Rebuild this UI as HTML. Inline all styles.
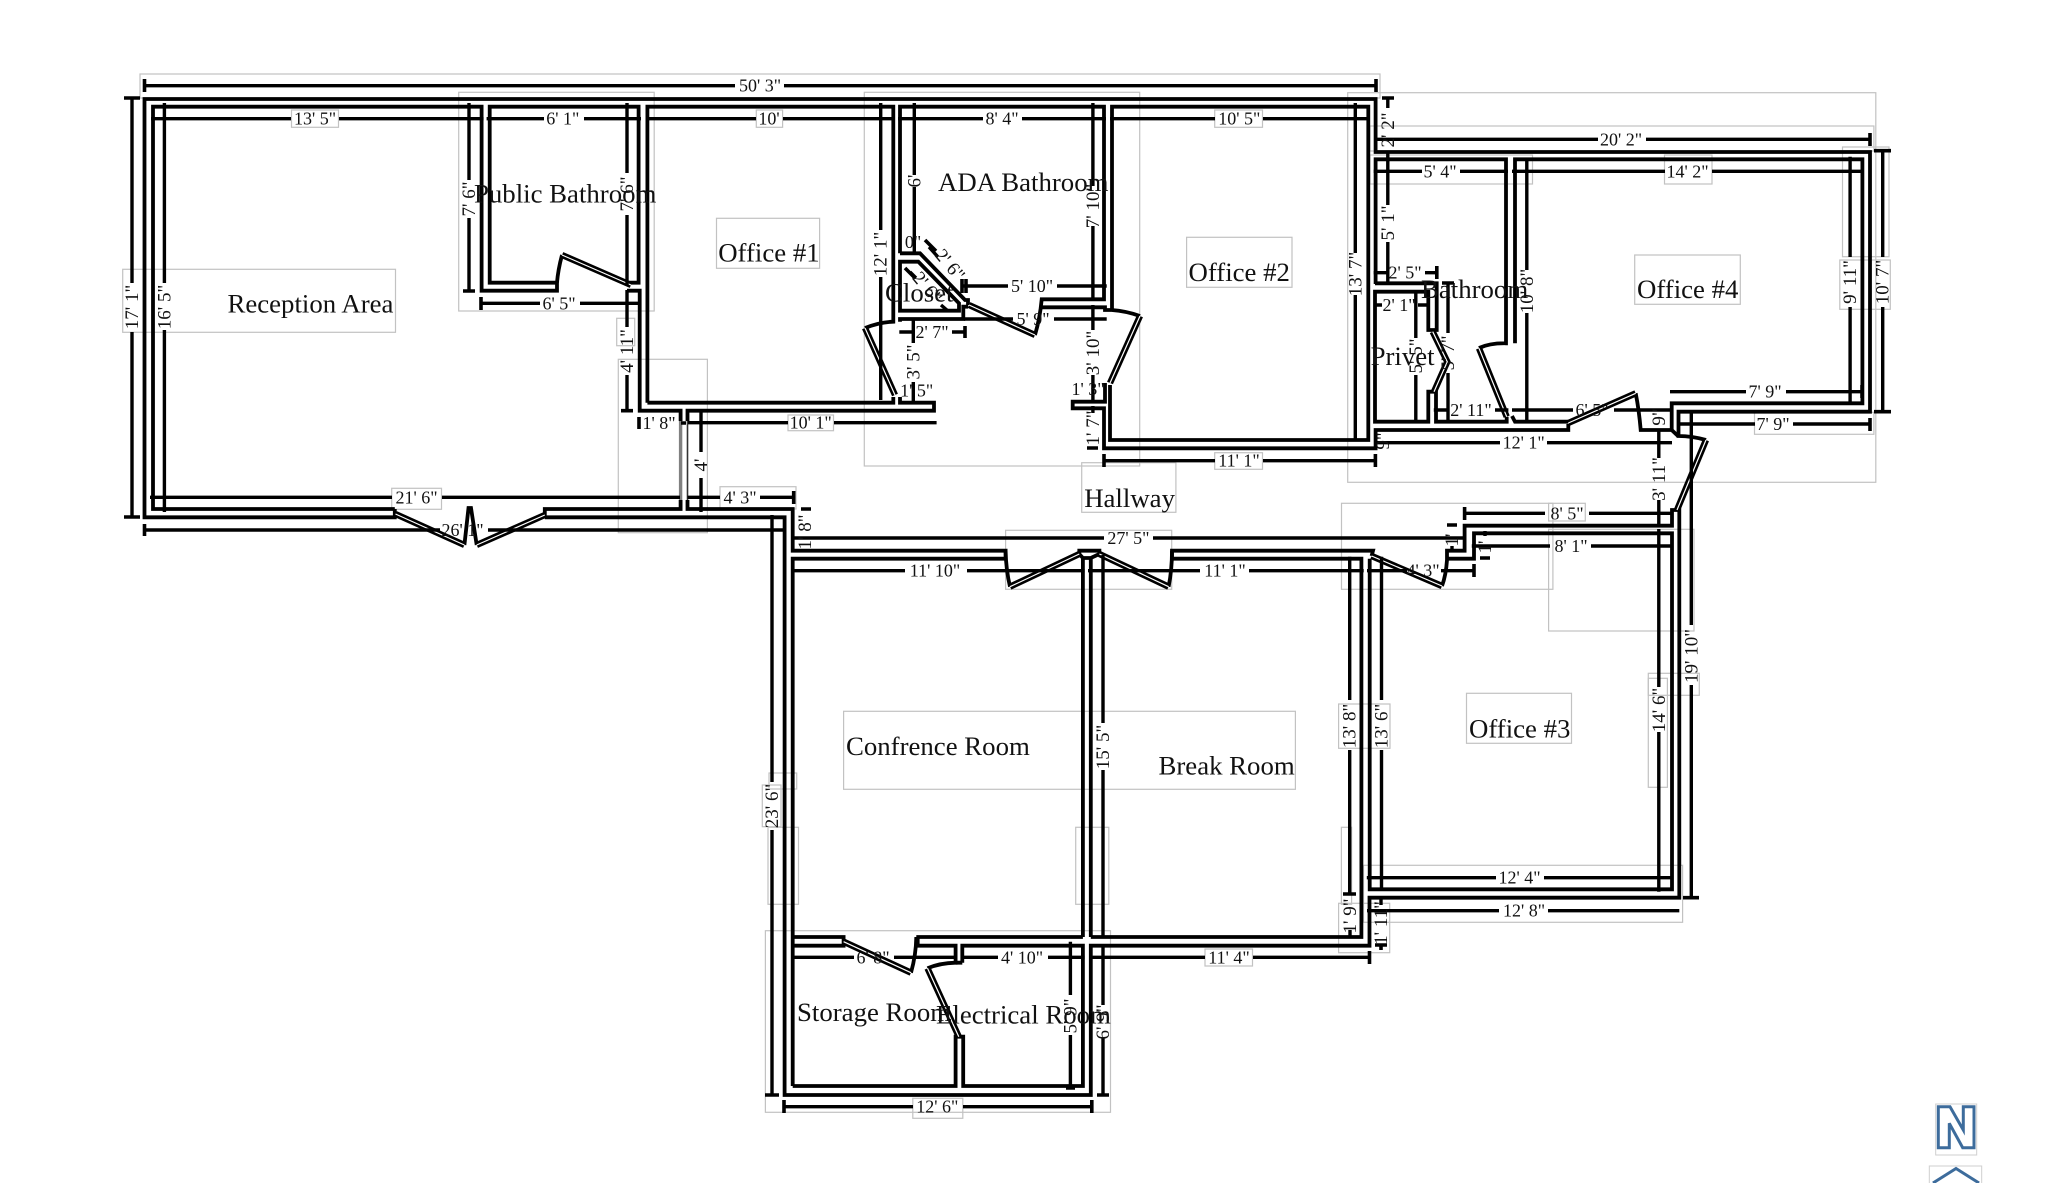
<!DOCTYPE html>
<html lang="en">
<head>
<meta charset="utf-8">
<title>Floor plan</title>
<style>
html,body{margin:0;padding:0;background:#fff}
svg{display:block}
text{font-family:"Liberation Serif",serif;fill:#111}
.r{font-size:26.8px}
.d{font-size:18px;text-anchor:middle}
.v{font-size:19px}
.box rect{fill:none;stroke:#c2c2c2;stroke-width:1.2}
.w{fill:none;stroke:#000;stroke-width:3.8;stroke-linejoin:miter}
.m{fill:none;stroke:#000;stroke-width:3.4}
.c{fill:none;stroke:#000;stroke-width:3.6}
</style>
</head>
<body>
<svg xmlns="http://www.w3.org/2000/svg" width="2048" height="1183" viewBox="0 0 2048 1183">
<rect width="2048" height="1183" fill="#fff"/>

<!-- gray label boxes -->
<g class="box">
<rect x="140" y="74" width="1240" height="24"/>
<rect x="458.7" y="92.3" width="195.5" height="218.7"/>
<rect x="122.7" y="269.3" width="272.8" height="63"/>
<rect x="291.5" y="110" width="47" height="17.3"/>
<rect x="391.7" y="488.3" width="49.8" height="21"/>
<rect x="618.3" y="359.3" width="89.1" height="173.4"/>
<rect x="616.7" y="318.3" width="18" height="27.4"/>
<rect x="864.3" y="92.3" width="275.4" height="373.7"/>
<rect x="716.5" y="218.3" width="103.1" height="50"/>
<rect x="1186.6" y="237.3" width="105.4" height="50"/>
<rect x="756.3" y="110" width="26.3" height="17.3"/>
<rect x="1214.7" y="110" width="47.8" height="17.3"/>
<rect x="1214.7" y="452.7" width="47.8" height="16.6"/>
<rect x="788" y="415" width="45.5" height="15.7"/>
<rect x="720" y="486.7" width="76" height="22.3"/>
<rect x="1081.7" y="462.7" width="94.2" height="49.6"/>
<rect x="1347.7" y="92.7" width="528.1" height="389.6"/>
<rect x="1369.9" y="126" width="504" height="25"/>
<rect x="1369.9" y="155" width="162.6" height="29"/>
<rect x="1664.5" y="155" width="47.5" height="29"/>
<rect x="1839.8" y="260" width="50.5" height="49.3"/>
<rect x="1842.5" y="147" width="46.5" height="109.7"/>
<rect x="1634.7" y="255" width="105.6" height="49.3"/>
<rect x="1754.5" y="412.3" width="119.4" height="22"/>
<rect x="1548.6" y="503.3" width="36.7" height="17.7"/>
<rect x="1341.5" y="503.3" width="211.4" height="86"/>
<rect x="1548.6" y="529.3" width="145.4" height="101.7"/>
<rect x="1648.3" y="673.3" width="51" height="22"/>
<rect x="1648.3" y="678.3" width="19.1" height="109"/>
<rect x="1466.5" y="693.3" width="105" height="50"/>
<rect x="1338.6" y="704" width="51.4" height="44.3"/>
<rect x="1338.6" y="903.3" width="51.1" height="49.4"/>
<rect x="1363.5" y="865.3" width="319.1" height="57"/>
<rect x="1341.4" y="827.3" width="10.2" height="77"/>
<rect x="843.6" y="711.3" width="451.8" height="78"/>
<rect x="1005.6" y="530.3" width="166.1" height="59"/>
<rect x="762.3" y="785" width="18.7" height="41.7"/>
<rect x="769" y="773" width="27.7" height="16"/>
<rect x="768" y="827.3" width="30.5" height="77"/>
<rect x="1075.7" y="827.3" width="33.1" height="77"/>
<rect x="765.4" y="930.7" width="345.1" height="181.6"/>
<rect x="912.8" y="1098.3" width="50" height="20"/>
<rect x="1205" y="949" width="47.5" height="17"/>
</g>

<!-- walls -->
<g class="w">
<path d="M394.8 509V517.3H144.5V99H1375.6V152H1870V411.7H1678.5V436Q1692 436 1706 440"/>
<path d="M394.8 509H153V106.7H481.6V290.7H557V282.7H489.7V106.7H638.6V282.7H629"/>
<path d="M557 282.7Q558 270 562 255"/>
<path d="M627 290.7H639.7V410.7H680.6V421"/>
<path d="M544.8 517.3V509H680.6V500"/>
<path d="M544.8 517.3H784.6V1095H1090.8V945.7H1369.5V897.7H1679.3V510H1672V525.7H1464.6V550.7H1447V560Q1446 575 1442 586"/>
<path d="M687.5 500V509H792.7V550.7H1005.6V558.7"/>
<path d="M1005.6 550.7Q1006 570 1010 586.7"/>
<path d="M647.4 402.7V106.7H893.3V321.7Q880 322 865 328"/>
<path d="M647.4 402.7H893.3V397"/>
<path d="M900 397V402.7H934V410.7H687.5V421"/>
<path d="M900 321.7V319H963.3V306.7H968"/>
<path d="M900 253.3V106.7H1104V299.3H1041.7Q1040 318 1035 335"/>
<path d="M900 253.3H920L965 300H968V305"/>
<path d="M900 261.7H918.3L959 303.3V310.7H900Z"/>
<path d="M1041.7 307.3H1105V310H1111.7Q1126 311 1140 316"/>
<path d="M1105 383V401.7H1072.7V408.3H1104V448.3H1375.6V430H1568.3V424"/>
<path d="M1110 385V440H1368.3V106.7H1112V310"/>
<path d="M1375.6 284V159.3H1506V343.3Q1490 343 1479 348"/>
<path d="M1375 283.3H1436.7V330H1428.3V291.7H1375V421.7H1428.3V391.7H1436V421.7H1506.7V416.7"/>
<path d="M1515 343.3V159.3H1862.4V403.3H1671.7V430H1640.7Q1639 410 1635.7 393.3"/>
<path d="M1512 416L1515 421.7H1568.3"/>
<path d="M1671.7 430L1678 436"/>
<path d="M792.7 1086V558.7H1005.6"/>
<path d="M1079.3 554V550.7H1099.4V554L1090.8 558H1082.9L1079.3 554"/>
<path d="M1082.9 937V558M1090.8 937V558"/>
<path d="M1172 558.7V550.7H1373L1371.6 556"/>
<path d="M1172 550.7Q1172 570 1168.6 586.7"/>
<path d="M1172 558.7H1361.4V937H1090.8"/>
<path d="M1369.7 558.7V889.3H1672V533.3H1474V558.7H1447"/>
<path d="M792.7 937H843.6V945.7H792.7"/>
<path d="M916.3 937H1082.9"/>
<path d="M916.3 937Q916 955 911 972.7"/>
<path d="M917.7 937V945.7H955.6V962.7Q940 963 927.5 968.3"/>
<path d="M962.3 962.7H955.6M962.3 962.7V945.7H1082.9V1086H963.2V1036.7H955.6V1086H792.7"/>
<path d="M464.4 545L468.5 508L471 508L476.7 545"/>
</g>
<path d="M680.6 421V500" fill="none" stroke="#808080" stroke-width="3.4"/>
<path d="M687.5 421V500" fill="none" stroke="#333" stroke-width="1.6"/>

<!-- door leaves (double line) -->
<defs>
<g id="lv">
<path d="M562 255L631 285"/>
<path d="M395.5 514L464.4 545"/>
<path d="M476.7 545L544.8 515"/>
<path d="M865 328L895 395"/>
<path d="M969 305L1035 335"/>
<path d="M1140 316L1110 383"/>
<path d="M1506.7 416.7L1479 348.3"/>
<path d="M1432.7 331.7L1447.3 361.7L1434 391.7"/>
<path d="M1568.3 423L1635.7 393.3"/>
<path d="M1706 440L1677 510"/>
<path d="M1010 586.7L1079.3 554"/>
<path d="M1099.4 554L1168.6 586.7"/>
<path d="M1371.6 556L1442 586"/>
<path d="M843.6 941.7L911 972.7"/>
<path d="M927.5 968.3L958.8 1036.7"/>
</g>
</defs>
<use href="#lv" fill="none" stroke="#000" stroke-width="6.4"/>
<use href="#lv" fill="none" stroke="#fff" stroke-width="1.2"/>

<!-- dimension lines -->
<path class="m" d="
M144.5 85.7H735M784 85.7H1376
M151 118.7H291M339 118.7H483.6
M486.6 118.7H544M584 118.7H641
M646 118.7H756M783 118.7H895
M898 118.7H983M1022 118.7H1106
M1110 118.7H1215M1263 118.7H1368.7
M480.5 303.3H540M580 303.3H641
M150 497.3H392M442 497.3H680M687.5 497.3H720M760 497.3H793.7
M144.5 530H440M488 530H784
M688 422.7H788M834 422.7H936.6
M681 423H686
M961.7 286H1008M1057 286H1106.7
M964 319H1013M1054 319H1106.7
M899.3 332H913M952 332H965
M1373.7 272.7H1388M1425 272.7H1436.8
M1373.7 305H1382M1418 305H1430
M1433.8 410H1448M1495 410H1508.4
M1512 410H1573M1614 410H1670
M1375.6 442.7H1500M1547 442.7H1672
M1670 391.7H1746M1786 391.7H1862
M1678.7 424H1755M1793 424H1870
M1375 139.3H1598M1646 139.3H1870
M1373.7 171.3H1422M1460 171.3H1508
M1512 171.3H1665M1712 171.3H1862
M1104 460.7H1215M1263 460.7H1375.4
M1464.6 513.3H1545M1589 513.3H1672
M1471.8 546H1550M1591 546H1672
M1367 570.7H1407M1441 570.7H1474
M792.7 570.7H905M967 570.7H1084.6
M1088 570.7H1200M1249 570.7H1363.7
M793 538H1104M1153 538H1464
M1366.8 877.7H1496M1544 877.7H1672
M1367 910.7H1499M1548 910.7H1679.3
M1091.8 957.3H1205M1253 957.3H1369.5
M962 957.3H998M1048 957.3H1084.6
M791 957.3H854M894 957.3H955.6
M783.8 1106.7H913M963 1106.7H1091.8

M132 98V283M132 332V517
M164.4 103V283M164.4 330V512
M469 103V180M469 218V291
M627 103V173M627 215V285
M627 290V327M627 375V410.7
M701 409V452M701 478V512
M880.7 103V230M880.7 277V400
M914.3 103V175M914.3 187V253
M1092.9 103V186M1092.9 226V300M1092.9 305V330M1092.9 375V401
M1092.9 406V413
M913.3 319V343M913.3 382V402
M1355.3 103V253M1355.3 295V440
M1387.8 98V108M1387.8 152V158
M1387.8 158V205M1387.8 242V283
M1415.8 291.7V338M1415.8 375V421.7
M1448 283V333M1448 373V423
M1526.8 158V270M1526.8 313V423
M1850.1 156.7V257M1850.1 307V405
M1882.7 150.7V257M1882.7 307V411.7
M1658.8 430V458M1658.8 500V527
M1658.8 529V687M1658.8 732V891.7
M1691.3 411.7V625M1691.3 685V897.7
M1349.7 556.7V700M1349.7 750V894
M1381.5 556.7V700M1381.5 750V889
M1103 555V723M1103 770V937
M1103 945V1005M1103 1038V1095
M1070.4 941.7V995M1070.4 1035V1088
M772 515V782M772 830V1095
M1350 930V937
M1381 897V905
M1452 546V551
M1485 531V536
M929 247L938 257
M910 272L916 278
M941 305L948 311
"/>

<!-- end caps -->
<path class="c" d="
M144.5 79V92M1376 79V92
M124 98H140M124 517H140
M463 291H475M481 297V310
M621 410.7H633M639 417V429
M144.5 524V536M793.7 491V504
M962 279V293M966 279V293
M965 326V338
M1436.8 266V279
M1104 454V467M1375.4 454V467
M1870 133V146M1862 385V398
M1870 418V431
M1874 150.7H1891M1874 411.7H1891
M1464.6 507V520
M1683 897.7H1699
M1343 894H1356M1075 1088H1066
M1375 945H1387M1381 945V950
M765 1095H779M1097 1095H1109
M784 1100V1113M1091.8 1100V1113
M1369.5 951V964
M1474 564V577
M1382 98H1394
M1087 448H1098
M1447 525H1457M1480 558H1490
M801 509H811
M925 240L936 251M905 268L915 278
M1442 283H1454
"/>

<!-- room names -->
<g class="r">
<text x="227.5" y="312.7">Reception Area</text>
<text x="474" y="202.7">Public Bathroom</text>
<text x="718.2" y="261.7">Office #1</text>
<text x="938" y="191">ADA Bathroom</text>
<text x="885" y="301.7">Closet</text>
<text x="1188.5" y="281">Office #2</text>
<text x="1421" y="298">Bathroom</text>
<text x="1370.6" y="365">Privet</text>
<text x="1637" y="298">Office #4</text>
<text x="1084.2" y="507">Hallway</text>
<text x="846" y="755">Confrence Room</text>
<text x="1158.5" y="774.3">Break Room</text>
<text x="1469" y="737.7">Office #3</text>
<text x="797" y="1021">Storage Room</text>
<text x="936" y="1023.7">Electrical Room</text>
</g>

<!-- dimension labels, horizontal -->
<g class="d">
<text x="760" y="91.7">50' 3"</text>
<text x="315" y="124.7">13' 5"</text>
<text x="562.8" y="124.7">6' 1"</text>
<text x="769" y="124.7">10'</text>
<text x="1002" y="124.7">8' 4"</text>
<text x="1239.3" y="124.7">10' 5"</text>
<text x="559" y="309.3">6' 5"</text>
<text x="416.6" y="503.3">21' 6"</text>
<text x="740" y="503.3">4' 3"</text>
<text x="462.5" y="536">26' 1"</text>
<text x="810.7" y="428.7">10' 1"</text>
<text x="659" y="429">1' 8"</text>
<text x="1032" y="292">5' 10"</text>
<text x="1033" y="325">5' 9"</text>
<text x="932" y="338">2' 7"</text>
<text x="916.7" y="396.7">1' 5"</text>
<text x="1088" y="395">1' 3"</text>
<text x="913" y="248">0"</text>
<text x="1405" y="278.7">2' 5"</text>
<text x="1399" y="311">2' 1"</text>
<text x="1471" y="416">2' 11"</text>
<text x="1592" y="416">6' 5"</text>
<text x="1523.7" y="448.7">12' 1"</text>
<text x="1765" y="397.7">7' 9"</text>
<text x="1773" y="430">7' 9"</text>
<text x="1621" y="145.3">20' 2"</text>
<text x="1440" y="177.3">5' 4"</text>
<text x="1687.5" y="177.3">14' 2"</text>
<text x="1239" y="466.7">11' 1"</text>
<text x="1567" y="519.3">8' 5"</text>
<text x="1571" y="552">8' 1"</text>
<text x="1423" y="576.7">4' 3"</text>
<text x="935" y="576.7">11' 10"</text>
<text x="1225" y="576.7">11' 1"</text>
<text x="1128.4" y="544">27' 5"</text>
<text x="1519.5" y="883.7">12' 4"</text>
<text x="1524" y="916.7">12' 8"</text>
<text x="1229" y="963.3">11' 4"</text>
<text x="1022" y="963.3">4' 10"</text>
<text x="873" y="963.3">6' 8"</text>
<text x="937.3" y="1112.7">12' 6"</text>
</g>
<!-- vertical and diagonal labels -->
<g class="d v">
<text transform="translate(138 307) rotate(-90)">17' 1"</text>
<text transform="translate(170.4 307) rotate(-90)">16' 5"</text>
<text transform="translate(475 199) rotate(-90)">7' 6"</text>
<text transform="translate(633 194) rotate(-90)">7' 6"</text>
<text transform="translate(633 351) rotate(-90)">4' 11"</text>
<text transform="translate(707 465) rotate(-90)">4'</text>
<text transform="translate(886.7 254) rotate(-90)">12' 1"</text>
<text transform="translate(920.3 181) rotate(-90)">6'</text>
<text transform="translate(1098.9 206) rotate(-90)">7' 10"</text>
<text transform="translate(1098.9 353) rotate(-90)">3' 10"</text>
<text transform="translate(1098.9 428) rotate(-90)">1' 7"</text>
<text transform="translate(919.3 362) rotate(-90)">3' 5"</text>
<text transform="translate(1361.3 274) rotate(-90)">13' 7"</text>
<text transform="translate(1393.8 130) rotate(-90)">2' 2"</text>
<text transform="translate(1393.8 223) rotate(-90)">5' 1"</text>
<text transform="translate(1421.8 356) rotate(-90)">5' 5"</text>
<text transform="translate(1454 353) rotate(-90)">5' 7"</text>
<text transform="translate(1532.8 291) rotate(-90)">10' 8"</text>
<text transform="translate(1856.1 282) rotate(-90)">9' 11"</text>
<text transform="translate(1888.7 282) rotate(-90)">10' 7"</text>
<text transform="translate(1664.8 417) rotate(-90)">9"</text>
<text transform="translate(1664.8 479) rotate(-90)">3' 11"</text>
<text transform="translate(1664.8 710) rotate(-90)">14' 6"</text>
<text transform="translate(1697.3 656) rotate(-90)">19' 10"</text>
<text transform="translate(1355.7 726) rotate(-90)">13' 8"</text>
<text transform="translate(1387.5 726) rotate(-90)">13' 6"</text>
<text transform="translate(1109 747) rotate(-90)">15' 5"</text>
<text transform="translate(1109 1022) rotate(-90)">6' 9"</text>
<text transform="translate(1076.4 1016) rotate(-90)">5' 9"</text>
<text transform="translate(778 806) rotate(-90)">23' 6"</text>
<text transform="translate(1356 916) rotate(-90)">1' 9"</text>
<text transform="translate(1387 923) rotate(-90)">1' 11"</text>
<text transform="translate(811 532) rotate(-90)">1' 8"</text>
<text transform="translate(1389 441) rotate(-90)">9"</text>
<text transform="translate(1458 540) rotate(-90)">1'</text>
<text transform="translate(1491 547) rotate(-90)">1'</text>
<text transform="translate(945.4 268.9) rotate(50)">2' 6"</text>
<text transform="translate(922.7 291.5) rotate(50)">2' 6"</text>
</g>

<!-- compass -->
<rect x="1935.7" y="1104" width="41" height="51" fill="#fff" stroke="#cfcfcf" stroke-width="1"/>
<path d="M1938.3 1106.7H1950L1963.3 1130V1106.7H1974V1147.7H1962.7L1949.3 1123.3V1147.7H1938.3Z" fill="#fff" stroke="#3d6c9c" stroke-width="3"/>
<rect x="1929.3" y="1166" width="52.4" height="30" fill="#fff" stroke="#cfcfcf" stroke-width="1"/>
<path d="M1933 1183L1956 1168.5L1979 1183" fill="none" stroke="#3d6c9c" stroke-width="3"/>
</svg>
</body>
</html>
